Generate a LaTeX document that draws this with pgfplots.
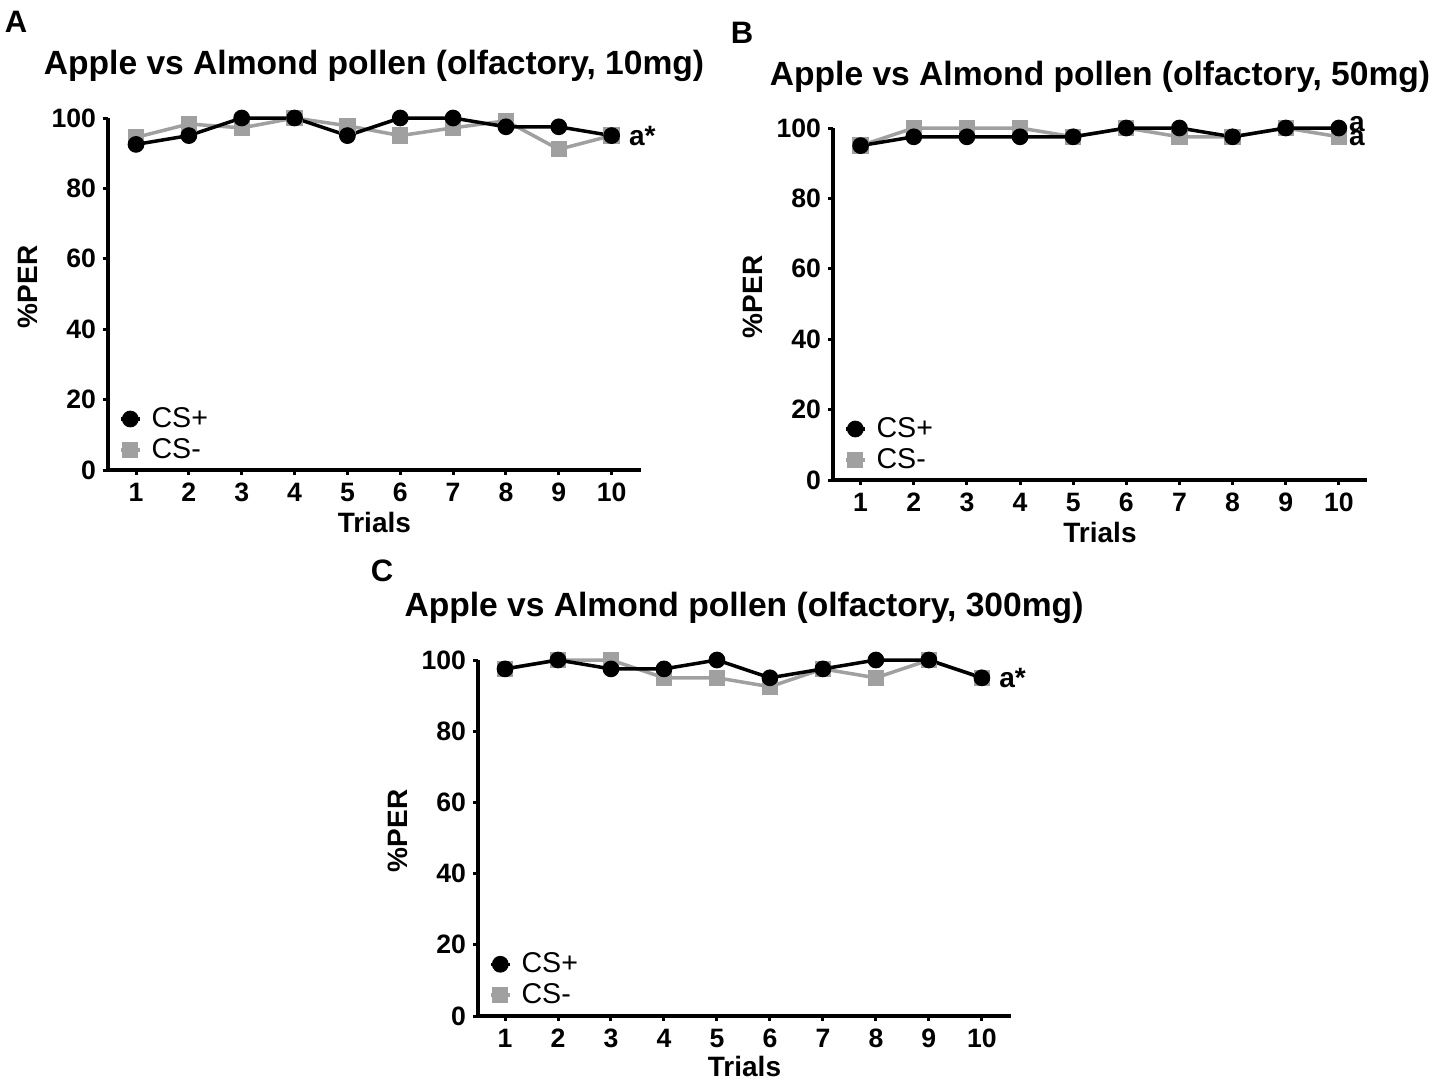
\documentclass[border=0pt]{standalone}
\usepackage{fontspec}
\setmainfont{Liberation Sans}
\usepackage{pgfplots}
\pgfplotsset{compat=1.18}
\definecolor{csgray}{RGB}{160,160,160}
\tikzset{ann/.style={font=\fontsize{14}{16}\selectfont\bfseries, anchor=west, inner sep=0pt}}
\pgfplotsset{
  prism/.style={
    scale only axis,
    axis lines=left,
    axis line style={-, line width=2pt},
    ymin=0, ymax=100,
    ytick={0,20,...,100},
    xtick={1,...,10},
    tick align=outside,
    major tick length=2.5pt,
    tick style={line width=1.5pt, black},
    every tick label/.append style={font=\fontsize{13.3}{15}\selectfont\bfseries},
    xticklabel style={text height=9.6pt, text depth=0pt},
    /pgf/number format/assume math mode=true,
    clip=false,
    label style={font=\fontsize{14}{16}\selectfont\bfseries},
    ylabel={\%PER}, xlabel={Trials},
    ylabel style={at={(axis description cs:-0.15,0.52)}, anchor=center},
    xlabel style={at={(axis description cs:0.5,-0.148)}, anchor=center},
    reverse legend,
    legend style={draw=none, fill=none, font=\fontsize{14.3}{15.5}\selectfont,
      at={(axis description cs:0.02,0.19)}, anchor=north west, inner sep=0pt,
      /tikz/every odd column/.append style={column sep=3pt}},
    legend cell align=left,
    legend image code/.code={\draw[mark repeat=2,mark phase=2,#1] plot coordinates {(0pt,0pt)(4.75pt,0pt)(9.5pt,0pt)};},
  },
  plus/.style={black, line width=1.75pt, mark=*, mark size=3.3pt, mark options={solid}},
  minus/.style={csgray, line width=1.75pt, mark=square*, mark size=3.2pt, mark options={solid}},
}
\begin{document}
\begin{tikzpicture}
\useasboundingbox (0,0) rectangle (723.5pt,-541pt);
% Panel A
\begin{axis}[prism, at={(108*0.5pt,-470*0.5pt)}, anchor=south west,
  width=266.35pt, height=176pt, xmin=0.47, xmax=10.55]
\addplot[minus] coordinates {(1,94.5)(2,98.3)(3,97.2)(4,100)(5,97.8)(6,95)(7,97.2)(8,99.2)(9,91.1)(10,95)};
\addplot[plus] coordinates {(1,92.5)(2,95)(3,100)(4,100)(5,95)(6,100)(7,100)(8,97.5)(9,97.5)(10,95)};
\legend{CS-,CS+}
\node[ann, xshift=8.5pt] at (axis cs:10,95) {a*};
\end{axis}
% Panel B
\begin{axis}[prism, at={(833*0.5pt,-480*0.5pt)}, anchor=south west,
  width=267pt, height=176pt, xmin=0.48, xmax=10.53]
\addplot[minus] coordinates {(1,95)(2,100)(3,100)(4,100)(5,97.5)(6,100)(7,97.5)(8,97.5)(9,100)(10,97.5)};
\addplot[plus] coordinates {(1,95)(2,97.5)(3,97.5)(4,97.5)(5,97.5)(6,100)(7,100)(8,97.5)(9,100)(10,100)};
\legend{CS-,CS+}
\node[ann, xshift=5pt, yshift=2pt] at (axis cs:10,100) {a};
\node[ann, xshift=5pt, yshift=-0.5pt] at (axis cs:10,97.5) {a};
\end{axis}
% Panel C
\begin{axis}[prism, at={(478*0.5pt,-1016*0.5pt)}, anchor=south west,
  width=266.5pt, height=178pt, xmin=0.49, xmax=10.55,
  xlabel style={at={(axis description cs:0.5,-0.142)}, anchor=center}]
\addplot[minus] coordinates {(1,97.5)(2,100)(3,100)(4,95)(5,95)(6,92.5)(7,97.5)(8,95)(9,100)(10,95)};
\addplot[plus] coordinates {(1,97.5)(2,100)(3,97.5)(4,97.5)(5,100)(6,95)(7,97.5)(8,100)(9,100)(10,95)};
\legend{CS-,CS+}
\node[ann, xshift=8.5pt] at (axis cs:10,95) {a*};
\end{axis}
% titles and panel letters
\node[font=\fontsize{16.8}{20}\selectfont\bfseries] at (374*0.5pt,-66*0.5pt) {Apple vs Almond pollen (olfactory, 10mg)};
\node[font=\fontsize{16.8}{20}\selectfont\bfseries] at (1100*0.5pt,-77*0.5pt) {Apple vs Almond pollen (olfactory, 50mg)};
\node[font=\fontsize{16.8}{20}\selectfont\bfseries] at (744*0.5pt,-608*0.5pt) {Apple vs Almond pollen (olfactory, 300mg)};
\node[font=\fontsize{15.5}{17}\selectfont\bfseries] at (16*0.5pt,-22*0.5pt) {A};
\node[font=\fontsize{15.5}{17}\selectfont\bfseries] at (742*0.5pt,-33*0.5pt) {B};
\node[font=\fontsize{15.5}{17}\selectfont\bfseries] at (382*0.5pt,-571*0.5pt) {C};
\end{tikzpicture}
\end{document}
